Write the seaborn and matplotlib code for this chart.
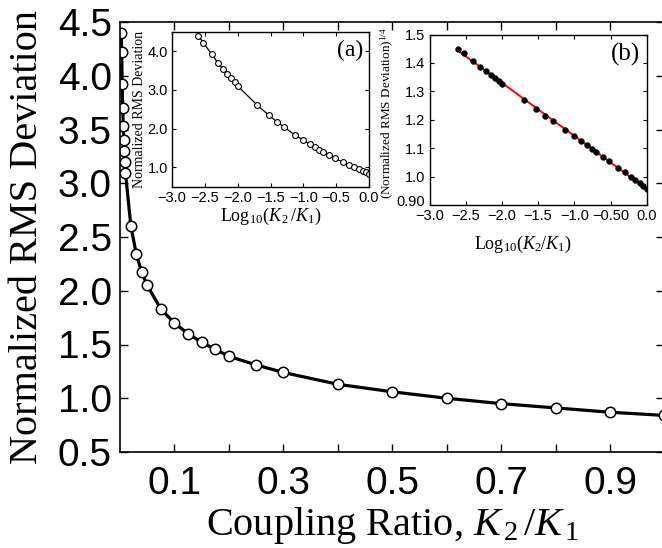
import matplotlib
matplotlib.use("Agg")
import matplotlib.pyplot as plt
import matplotlib.transforms as mtransforms
import numpy as np
import pandas as pd
import seaborn as sns

# coupling ratio K2/K1 and normalized RMS deviation
coupling_ratio = [0.0025, 0.003, 0.004, 0.005, 0.006, 0.007, 0.008, 0.009, 0.01,
                  0.02, 0.03, 0.04, 0.05, 0.075, 0.1, 0.125, 0.15, 0.175, 0.2,
                  0.25, 0.3, 0.4, 0.5, 0.6, 0.7, 0.8, 0.9, 1.0]
rms_deviation = [4.40, 4.22, 3.92, 3.70, 3.53, 3.40, 3.30, 3.20, 3.10,
                 2.60, 2.34, 2.17, 2.05, 1.83, 1.70, 1.60, 1.52, 1.455, 1.39,
                 1.31, 1.24, 1.13, 1.06, 1.00, 0.95, 0.91, 0.87, 0.84]

main_xticks = [0.1, 0.2, 0.3, 0.4, 0.5, 0.6, 0.7, 0.8, 0.9, 1.0]
main_xticklabels = ['0.1', '', '0.3', '', '0.5', '', '0.7', '', '0.9', '']
main_yticks = [0.5, 1.0, 1.5, 2.0, 2.5, 3.0, 3.5, 4.0, 4.5]

inset_xticks = [-3.0, -2.5, -2.0, -1.5, -1.0, -0.5, 0.0]
inset_a_xticklabels = ['\u22123.0', '\u22122.5', '\u22122.0', '\u22121.5', '\u22121.0', '\u22120.5', '0.0']
inset_b_xticklabels = ['\u22123.0', '\u22122.5', '\u22122.0', '\u22121.5', '\u22121.0', '\u22120.50', '0.0']
inset_a_yticks = [1.0, 2.0, 3.0, 4.0]
inset_b_yticks = [0.9, 1.0, 1.1, 1.2, 1.3, 1.4, 1.5]
inset_b_yticklabels = ['0.90', '1.0', '1.1', '1.2', '1.3', '1.4', '1.5']

df = pd.DataFrame({'ratio': coupling_ratio, 'rms': rms_deviation})
df['log_ratio'] = np.log10(df['ratio'])
df['rms_quarter'] = df['rms'] ** 0.25

sns.set_style("ticks")
plt.rcParams.update({
    'font.family': ['Liberation Sans', 'DejaVu Sans'],
    'mathtext.fontset': 'custom',
    'mathtext.rm': 'Liberation Serif',
    'mathtext.it': 'Liberation Serif:italic',
    'xtick.direction': 'in',
    'ytick.direction': 'in',
    'xtick.top': True,
    'ytick.right': True,
    'axes.edgecolor': 'black',
    'xtick.color': 'black',
    'ytick.color': 'black',
    'text.color': 'black',
    'axes.labelcolor': 'black',
})
serif = 'Liberation Serif'

W, H = 662, 548
fig = plt.figure(figsize=(W / 100, H / 100), dpi=100)

# main panel
ax = fig.add_axes([120 / W, 96 / H, 544.5 / W, 430 / H])
sns.lineplot(data=df, x='ratio', y='rms', ax=ax, color='black', linewidth=2.3,
             marker='o', markersize=7.5, markerfacecolor='white',
             markeredgecolor='black', markeredgewidth=1.1, sort=True)
ax.set_xlim(0, 1.0)
ax.set_ylim(0.5, 4.5)
ax.set_xticks(main_xticks)
ax.set_xticklabels(main_xticklabels)
ax.set_yticks(main_yticks)
ax.set_yticklabels([f'{v:.1f}' for v in main_yticks])
ax.tick_params(axis='both', labelsize=28, length=6, width=1.0)
ax.tick_params(axis='x', pad=10)
ax.tick_params(axis='y', pad=6)
ax.set_xlabel(r'Coupling Ratio, $K_{\,2}\,/K_{\,1}$', fontsize=29, family=serif, labelpad=2)
ax.set_ylabel('Normalized RMS Deviation', fontsize=29, family=serif, labelpad=8)
for s in ax.spines.values():
    s.set_linewidth(1.2)

# inset (a)
axa = fig.add_axes([172 / W, (H - 186.7) / H, 197 / W, 155 / H])
sns.lineplot(data=df, x='log_ratio', y='rms', ax=axa, color='black', linewidth=0.9,
             marker='o', markersize=4.2, markerfacecolor='white',
             markeredgecolor='black', markeredgewidth=0.8)
axa.set_xlim(-3.0, 0.0)
axa.set_ylim(0.5, 4.5)
axa.set_xticks(inset_xticks)
axa.set_xticklabels(inset_a_xticklabels)
axa.set_yticks(inset_a_yticks)
axa.set_yticklabels([f'{v:.1f}' for v in inset_a_yticks])
axa.tick_params(axis='both', labelsize=10.5, length=3, width=0.8, pad=3)
axa.set_xlabel(r'Log$_{10}$($K_{\,2}\,/K_1$)', fontsize=13, family=serif, labelpad=1)
axa.set_ylabel('Normalized RMS Deviation', fontsize=10, family=serif, labelpad=1)
axa.text(0.97, 0.95, '(a)', transform=axa.transAxes, ha='right', va='top',
         fontsize=17, family=serif)
for s in axa.spines.values():
    s.set_linewidth(1.0)

# inset (b)
axb = fig.add_axes([429.5 / W, 343 / H, 217.2 / W, 170.5 / H])
sns.regplot(data=df, x='log_ratio', y='rms_quarter', ax=axb, scatter=False, ci=None,
            line_kws={'color': 'red', 'linewidth': 1.4})
sns.scatterplot(data=df, x='log_ratio', y='rms_quarter', ax=axb, color='black',
                s=18, edgecolor='black', linewidth=0.3, zorder=3)
axb.set_xlim(-3.0, 0.0)
axb.set_ylim(0.9, 1.5)
axb.set_xticks(inset_xticks)
axb.set_xticklabels(inset_b_xticklabels)
axb.set_yticks(inset_b_yticks)
axb.set_yticklabels(inset_b_yticklabels)
axb.tick_params(axis='both', labelsize=10.5, length=3, width=0.8, pad=3)
# lift the bottom "0.90" label a few pixels, clear of the x tick labels
lbl = axb.yaxis.get_major_ticks()[0].label1
lbl.set_transform(lbl.get_transform() + mtransforms.ScaledTranslation(0, 4 / 100, fig.dpi_scale_trans))
axb.set_xlabel(r'Log$_{10}$($K_2/K_1$)', fontsize=13, family=serif)
axb.xaxis.set_label_coords(0.43, -0.17)
axb.set_ylabel(r'(Normalized RMS Deviation)$^{1/4}$', fontsize=9.5, family=serif)
axb.yaxis.set_label_coords(-0.155, 0.54)
axb.text(0.97, 0.95, '(b)', transform=axb.transAxes, ha='right', va='top',
         fontsize=18, family=serif)
for s in axb.spines.values():
    s.set_linewidth(1.0)

fig.savefig('out.png', dpi=100)
